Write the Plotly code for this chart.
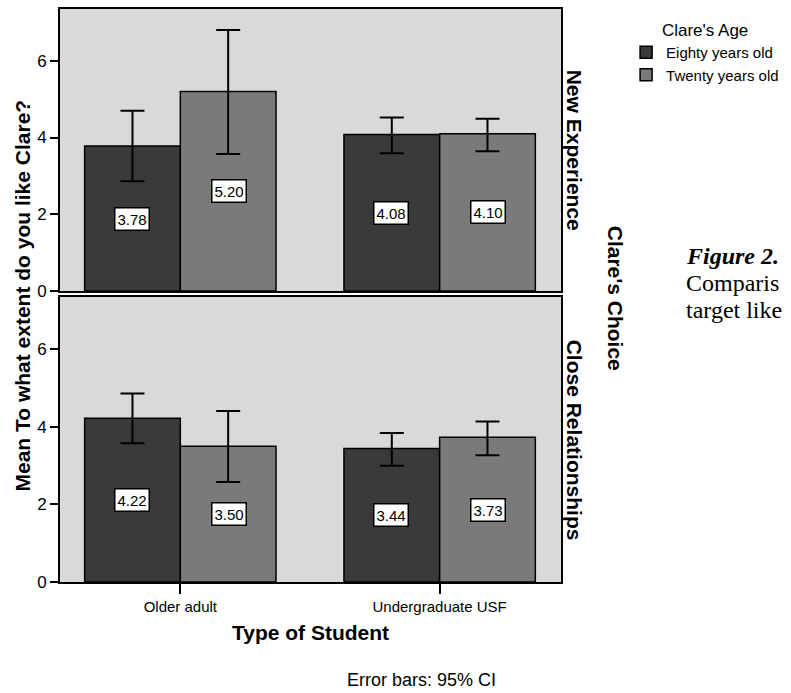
import plotly.graph_objects as go

# ---------------- data ----------------
categories = ["Older adult", "Undergraduate USF"]
series_names = ["Eighty years old", "Twenty years old"]
panel_names = ["New Experience", "Close Relationships"]

eighty_new = [3.78, 4.08]
eighty_new_lo = [2.86, 3.59]
eighty_new_hi = [4.70, 4.52]
twenty_new = [5.20, 4.10]
twenty_new_lo = [3.57, 3.64]
twenty_new_hi = [6.80, 4.49]

eighty_close = [4.22, 3.44]
eighty_close_lo = [3.58, 3.00]
eighty_close_hi = [4.86, 3.84]
twenty_close = [3.50, 3.73]
twenty_close_lo = [2.58, 3.27]
twenty_close_hi = [4.41, 4.14]

y_ticks = [0, 2, 4, 6]

# ---------------- style ----------------
FONT = "Liberation Sans, Arial, sans-serif"
SERIF = "Liberation Serif, Times New Roman, serif"
C_EIGHTY = "#3a3a3a"
C_TWENTY = "#7a7a7a"
BG = "#d9d9d9"
W, H = 791, 693
ML, MR, MT, MB = 60, 223, 7, 111
PW = W - ML - MR
PH = H - MT - MB
XR = [-0.464, 1.468]
YR = [0, 7.35]
BARGAP = 0.262
bar_px = (1 - BARGAP) / 2 * PW / (XR[1] - XR[0])

fig = go.Figure()

panels = [
    ("x2", "y2", [(eighty_new, eighty_new_lo, eighty_new_hi), (twenty_new, twenty_new_lo, twenty_new_hi)]),
    ("x", "y", [(eighty_close, eighty_close_lo, eighty_close_hi), (twenty_close, twenty_close_lo, twenty_close_hi)]),
]
colors = [C_EIGHTY, C_TWENTY]

annotations = []
for pi, (xa, ya, series) in enumerate(panels):
    for si, (vals, lo, hi) in enumerate(series):
        fig.add_trace(go.Bar(
            x=categories, y=vals, name=series_names[si],
            xaxis=xa, yaxis=ya,
            marker=dict(color=colors[si], line=dict(color="black", width=1.5)),
            error_y=dict(type="data", symmetric=False,
                         array=[h - v for h, v in zip(hi, vals)],
                         arrayminus=[v - l for v, l in zip(vals, lo)],
                         color="black", thickness=2, width=12),
            showlegend=(pi == 1), legendgroup=series_names[si],
        ))
        for ci, v in enumerate(vals):
            annotations.append(dict(
                x=categories[ci], y=v / 2, xref=xa, yref=ya,
                xshift=(-1 if si == 0 else 1) * bar_px / 2,
                text=f"{v:.2f}", showarrow=False,
                font=dict(family=FONT, size=15, color="black"),
                bgcolor="white", bordercolor="black", borderwidth=1.5, borderpad=2,
            ))

def px2x(px):
    return (px - ML) / PW

def py2y(py):
    return (H - MB - py) / PH

annotations += [
    dict(x=px2x(22), y=py2y(295), xref="paper", yref="paper", showarrow=False,
         text="<b>Mean To what extent do you like Clare?</b>", textangle=-90,
         font=dict(family=FONT, size=21, color="black"), xanchor="center", yanchor="middle"),
    dict(x=px2x(582), y=py2y(149), xref="paper", yref="paper", showarrow=False,
         text="<b>" + panel_names[0] + "</b>", textangle=90,
         font=dict(family=FONT, size=21, color="black"), xanchor="center", yanchor="middle"),
    dict(x=px2x(582), y=py2y(440), xref="paper", yref="paper", showarrow=False,
         text="<b>" + panel_names[1] + "</b>", textangle=90,
         font=dict(family=FONT, size=21, color="black"), xanchor="center", yanchor="middle"),
    dict(x=px2x(623), y=py2y(297), xref="paper", yref="paper", showarrow=False,
         text="<b>Clare's Choice</b>", textangle=90,
         font=dict(family=FONT, size=21, color="black"), xanchor="center", yanchor="middle"),
    dict(x=px2x(314), y=py2y(633), xref="paper", yref="paper", showarrow=False,
         text="<b>Type of Student</b>",
         font=dict(family=FONT, size=21, color="black"), xanchor="center", yanchor="middle"),
    dict(x=px2x(427), y=py2y(680), xref="paper", yref="paper", showarrow=False,
         text="Error bars: 95% CI",
         font=dict(family=FONT, size=18, color="black"), xanchor="center", yanchor="middle"),
    dict(x=px2x(693), y=py2y(255), xref="paper", yref="paper", showarrow=False,
         text="<b><i>Figure 2.</i></b>",
         font=dict(family=SERIF, size=24, color="black"), xanchor="left", yanchor="middle"),
    dict(x=px2x(693), y=py2y(282), xref="paper", yref="paper", showarrow=False,
         text="Comparis",
         font=dict(family=SERIF, size=24, color="black"), xanchor="left", yanchor="middle"),
    dict(x=px2x(693), y=py2y(309), xref="paper", yref="paper", showarrow=False,
         text="target like",
         font=dict(family=SERIF, size=24, color="black"), xanchor="left", yanchor="middle"),
]

axis_common = dict(showline=True, linewidth=2, linecolor="black", mirror=True,
                   showgrid=False, zeroline=False)

fig.update_layout(
    width=W, height=H,
    margin=dict(l=ML, r=MR, t=MT, b=MB, pad=0),
    paper_bgcolor="white", plot_bgcolor=BG,
    barmode="group", bargap=BARGAP, bargroupgap=0,
    font=dict(family=FONT, color="black"),
    xaxis=dict(domain=[0, 1], anchor="y", range=XR, type="category",
               ticks="outside", ticklen=10, tickwidth=2, tickcolor="black",
               tickfont=dict(size=15), **axis_common),
    yaxis=dict(domain=[0, py2y(296)], anchor="x", range=YR, tickvals=y_ticks,
               ticks="outside", ticklen=8, tickwidth=2, tickcolor="black",
               tickfont=dict(size=17), **axis_common),
    xaxis2=dict(domain=[0, 1], anchor="y2", range=XR, type="category", matches="x",
                showticklabels=False, ticks="", **axis_common),
    yaxis2=dict(domain=[py2y(290), 1], anchor="x2", range=YR, tickvals=y_ticks,
                ticks="outside", ticklen=8, tickwidth=2, tickcolor="black",
                tickfont=dict(size=17), **axis_common),
    legend=dict(x=px2x(634), y=py2y(12), xanchor="left", yanchor="top",
                orientation="v", traceorder="normal",
                title=dict(text="Clare's Age", side="top center",
                           font=dict(family=FONT, size=17, color="black")),
                font=dict(family=FONT, size=15, color="black"),
                bgcolor="rgba(0,0,0,0)", itemclick=False, itemdoubleclick=False),
    annotations=annotations,
)

fig.write_html("out.html", config={"displayModeBar": False},
               post_script="document.body.style.margin='0';document.body.style.overflow='hidden';")
